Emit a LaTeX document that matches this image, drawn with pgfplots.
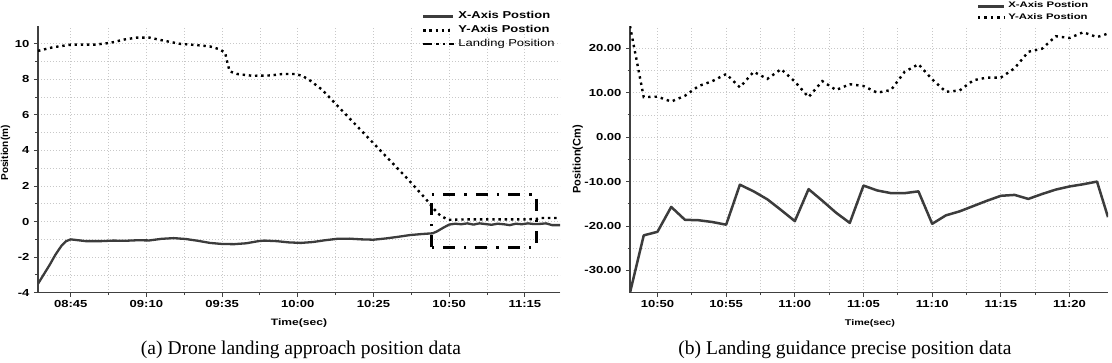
\documentclass[border=0pt]{standalone}
\usepackage{fontspec}
\usepackage{graphicx}
\setmainfont{Liberation Serif}
\newfontfamily\cf{Liberation Sans}
\newfontfamily\cfr{Liberation Sans}
\usepackage{pgfplots}
\usepackage{pgfplotstable}
\pgfplotsset{compat=1.18}
\definecolor{xser}{HTML}{3C3C3C}
\definecolor{axc}{HTML}{404040}
\definecolor{gridc}{HTML}{C8C8C8}
\newcommand{\wide}[1]{\scalebox{1.3}[1]{#1}}

% Left chart: x = minutes after 08:45
\pgfplotstableread{
x y
-10.8 -3.5
-9 -3.0
-7 -2.45
-5 -1.85
-3 -1.35
-1.5 -1.1
0 -1.0
5 -1.1
10 -1.1
14 -1.07
18 -1.08
22 -1.05
26 -1.06
30 -0.97
34 -0.93
38 -0.98
42 -1.08
46 -1.2
50 -1.26
54 -1.27
58 -1.22
62 -1.1
64 -1.07
68 -1.1
72 -1.17
76 -1.2
80 -1.15
84 -1.05
88 -0.97
92 -0.96
96 -1.0
100 -1.02
104 -0.95
108 -0.86
112 -0.76
116 -0.7
119.5 -0.66
121 -0.55
123 -0.35
125 -0.17
127 -0.12
129 -0.15
131 -0.1
133 -0.17
135 -0.1
137 -0.14
139 -0.18
141 -0.12
143 -0.15
145 -0.2
147 -0.12
149 -0.15
151 -0.1
153 -0.14
155 -0.13
157 -0.1
159 -0.2
161.6 -0.2
}\leftX

\pgfplotstableread{
x y
-10.8 9.6
-6 9.8
0 9.95
8 9.95
13 10.05
18 10.25
22 10.35
26 10.35
30 10.2
36 10.0
42 9.92
46 9.85
49 9.7
51 9.5
51.8 8.9
52.5 8.45
55 8.3
60 8.2
66 8.22
70 8.3
74 8.3
76.5 8.2
79 7.94
83 7.42
111 2.45
117.2 1.29
120 0.7
122 0.35
124.6 0.1
130 0.12
140 0.12
150 0.12
154 0.15
155 0.2
161.6 0.2
}\leftY

\pgfplotstableread{
x y
119.2 -1.45
119.2 1.55
153.7 1.55
153.7 -1.45
119.2 -1.45
}\landing

% Right chart: x = minutes after 10:50
\pgfplotstableread{
x y
-2 -35
-1 -22.1
0 -21.3
1 -15.7
2 -18.6
3 -18.7
4 -19.1
5 -19.7
6 -10.7
7 -12.2
8 -14.0
9 -16.4
10 -18.9
11 -11.7
12 -14.3
13 -17.0
14 -19.3
15 -10.9
16 -12.0
17 -12.6
18 -12.6
19 -12.2
20 -19.5
21 -17.6
22 -16.7
23 -15.5
24 -14.3
25 -13.2
26 -13.0
27 -13.9
28 -12.8
29 -11.8
30 -11.1
31 -10.6
32 -10.0
32.8 -18.0
}\rightX

\pgfplotstableread{
x y
-2 25
-1 9.0
0 9.1
1 8.0
2 9.3
3 11.5
4 12.6
5 14.2
6 11.2
7 14.7
8 13.1
9 15.3
10 12.5
11 9.0
12 12.6
13 10.6
14 11.9
15 11.5
16 10.0
17 10.6
18 14.7
19 16.4
20 13.0
21 10.2
22 10.5
23 12.8
24 13.4
25 13.4
26 15.5
27 19.2
28 19.9
29 22.7
30 22.3
31 23.6
32 22.5
32.8 23.3
}\rightY

\pgfplotsset{
  chart/.style={
    scale only axis,
    axis x line*=bottom, axis y line*=left,
    axis line style={-, axc, line width=1.4pt},
    tick align=outside, major tick length=4pt, minor tick length=2.5pt,
    tick style={axc, line width=1pt},
    grid=both,
    major grid style={gridc, line width=0.8pt, dash pattern=on 1pt off 2pt},
    minor grid style={gridc, line width=0.8pt, dash pattern=on 1pt off 2pt},
    minor x tick num=1, minor y tick num=1,
    ticklabel style={font=\cf\bfseries\fontsize{10.2}{12}\selectfont, text=black, xscale=1.28},
    legend cell align=left,
    legend image code/.code={\draw[##1] (0pt,0pt) -- (30pt,0pt);},
  },
}

\begin{document}
\begin{tikzpicture}
\useasboundingbox (0pt,0pt) rectangle (1112pt,362pt);

% ---------- Left chart ----------
\begin{axis}[chart,
  at={(38pt,69.3pt)}, anchor=south west,
  width=522pt, height=266.7pt,
  xmin=-10.8, xmax=161.6, ymin=-4, ymax=11,
  xtick={0,25,50,75,100,125,150},
  xticklabels={08:45,09:10,09:35,10:00,10:25,10:50,11:15},
  ytick={-4,-2,0,2,4,6,8,10},
  yticklabels={-4,-2,0,2,4,6,8,10},
  xlabel={\wide{Time(sec)}},
  ylabel={Position(m)},
  xlabel style={at={(axis description cs:0.5,0)}, anchor=center, yshift=-30.3pt,
    font=\cf\bfseries\fontsize{9.3}{11}\selectfont},
  ylabel style={at={(axis description cs:-0.0623,0.524)}, anchor=center,
    font=\cfr\bfseries\fontsize{10}{12}\selectfont},
  legend style={at={(axis description cs:0.735,1.0615)}, anchor=north west,
    draw=none, fill=none, inner sep=0pt, column sep=3pt, row sep=0pt,
    font=\cf\fontsize{10}{12}\selectfont,
    nodes={inner sep=0pt, text height=9pt, text depth=4.7pt}},
]
\addplot[draw=xser, line width=2.3pt, line join=round] table {\leftX};
\addlegendentry{\wide{\bfseries X-Axis Postion}}
\addplot[draw=black, line width=2.4pt, dash pattern=on 2.4pt off 3.8pt] table {\leftY};
\addlegendentry{\wide{\bfseries Y-Axis Postion}}
\addplot[draw=black, line width=3pt, dash pattern=on 12pt off 9pt on 2.5pt off 9pt,
  legend image code/.code={\draw[black, line width=2.6pt,
    dash pattern=on 9pt off 4pt on 2.5pt off 4pt on 2.5pt off 4pt on 9pt off 10pt]
    (0pt,0pt) -- (31pt,0pt);}] table {\landing};
\addlegendentry{\wide{Landing Position}}
\end{axis}

% ---------- Right chart ----------
\begin{axis}[chart,
  at={(630pt,69.3pt)}, anchor=south west,
  width=478pt, height=266.7pt,
  xmin=-2, xmax=32.8, ymin=-35, ymax=25,
  xtick={0,5,10,15,20,25,30},
  xticklabels={10:50,10:55,11:00,11:05,11:10,11:15,11:20},
  ytick={-30,-20,-10,0,10,20},
  yticklabels={-30.00,-20.00,-10.00,0.00,10.00,20.00},
  xlabel={\wide{Time(sec)}},
  ylabel={Position(Cm)},
  xlabel style={at={(axis description cs:0.502,0)}, anchor=center, yshift=-30.3pt,
    font=\cf\bfseries\fontsize{8.3}{10}\selectfont},
  ylabel style={at={(axis description cs:-0.109,0.5)}, anchor=center,
    font=\cfr\bfseries\fontsize{11}{13}\selectfont},
  legend image code/.code={\draw[#1] (0pt,0pt) -- (26pt,0pt);},
  legend style={at={(axis description cs:0.725,1.096)}, anchor=north west,
    draw=none, fill=none, inner sep=0pt, column sep=3pt, row sep=0pt,
    font=\cf\bfseries\fontsize{8.1}{10}\selectfont,
    nodes={inner sep=0pt, text height=7.3pt, text depth=4pt}},
]
\addplot[draw=xser, line width=2.5pt, line join=round] table {\rightX};
\addlegendentry{\scalebox{1.4}[1]{X-Axis Postion}}
\addplot[draw=black, line width=2.4pt, dash pattern=on 2.4pt off 4pt] table {\rightY};
\addlegendentry{\scalebox{1.4}[1]{Y-Axis Postion}}
\end{axis}

\node[font=\fontsize{19.5}{22}\selectfont] at (301pt,12pt) {(a) Drone landing approach position data};
\node[font=\fontsize{19.5}{22}\selectfont] at (845pt,12pt) {(b) Landing guidance precise position data};
\end{tikzpicture}
\end{document}
